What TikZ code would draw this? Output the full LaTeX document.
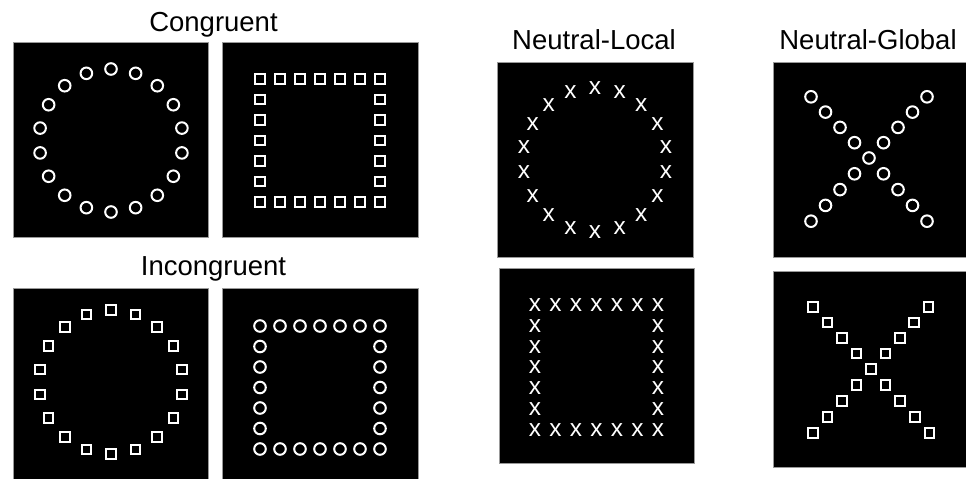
\documentclass[tikz,border=0pt]{standalone}
\usepackage{fontspec}
\setmainfont{Liberation Sans}
\begin{document}
\begin{tikzpicture}[x=1bp,y=-1bp,
  panel/.style={fill=black, draw=black!40, line width=0.8bp},
  title/.style={anchor=base, font=\fontsize{27.6}{30}\selectfont, inner sep=0},
  ringmark/.style={circle, draw=white, line width=2bp, minimum size=11.6bp, inner sep=0},
  boxmark/.style={rectangle, draw=white, line width=2bp, minimum size=9.6bp, inner sep=0},
  crossmark/.style={text=white, font=\fontsize{24.5}{24.5}\selectfont, inner sep=0}]
\useasboundingbox (0,0) rectangle (966,479);

% titles
\node[title] (tcong) at (213.5,32) {Congruent};
\node[title] (tincong) at (213.5,276) {Incongruent};
\node[title] (tnl) at (594,50) {Neutral-Local};
\node[title] (tng) at (868,50) {Neutral-Global};

% panels
\path[panel] (13,42) rectangle (208,237);
\path[panel] (222,42) rectangle (418,237);
\path[panel] (13,288) rectangle (208,484);
\path[panel] (222,288) rectangle (418,484);
\path[panel] (497,62) rectangle (693,257);
\path[panel] (499,268) rectangle (694,463);
\path[panel] (773,62) rectangle (969,257);
\path[panel] (773,271) rectangle (969,467);

% Congruent: circle of circles
\foreach \k in {0,...,17}
  \node[ringmark] (ca\k) at ({111+72*cos(90+20*\k)},{140.5-71.5*sin(90+20*\k)}) {};
% Congruent: square of squares
\foreach \i in {0,...,6} {
  \node[boxmark] (cbt\i) at ({260+20*\i},79) {};
  \node[boxmark] (cbb\i) at ({260+20*\i},202) {};
}
\foreach \j in {1,...,5} {
  \node[boxmark] (cbl\j) at (260,{79+20.5*\j}) {};
  \node[boxmark] (cbr\j) at (380,{79+20.5*\j}) {};
}

% Incongruent: circle of squares
\foreach \k in {0,...,17}
  \node[boxmark] (ia\k) at ({111+72*cos(90+20*\k)},{382-72*sin(90+20*\k)}) {};
% Incongruent: square of circles
\foreach \i in {0,...,6} {
  \node[ringmark] (ibt\i) at ({260+20*\i},326) {};
  \node[ringmark] (ibb\i) at ({260+20*\i},449) {};
}
\foreach \j in {1,...,5} {
  \node[ringmark] (ibl\j) at (260,{326+20.5*\j}) {};
  \node[ringmark] (ibr\j) at (380,{326+20.5*\j}) {};
}

% Neutral-Local: circle of x
\foreach \k in {0,...,17}
  \node[crossmark] (la\k) at ({595+72*cos(90+20*\k)},{160-72*sin(90+20*\k)}) {x};
% Neutral-Local: square of x
\foreach \i in {0,...,6} {
  \node[crossmark] (lbt\i) at ({535+20.5*\i},305) {x};
  \node[crossmark] (lbb\i) at ({535+20.5*\i},430) {x};
}
\foreach \j in {1,...,5} {
  \node[crossmark] (lbl\j) at (535,{305+20.8*\j}) {x};
  \node[crossmark] (lbr\j) at (658,{305+20.8*\j}) {x};
}

% Neutral-Global: X of circles
\node[ringmark] (ga0) at (869,158) {};
\foreach \k in {1,...,4} {
  \node[ringmark] (gatl\k) at ({869-14.5*\k},{158-15.3*\k}) {};
  \node[ringmark] (gatr\k) at ({869+14.5*\k},{158-15.3*\k}) {};
  \node[ringmark] (gabl\k) at ({869-14.5*\k},{158+15.8*\k}) {};
  \node[ringmark] (gabr\k) at ({869+14.5*\k},{158+15.8*\k}) {};
}
% Neutral-Global: X of squares
\node[boxmark] (gb0) at (871,369) {};
\foreach \k in {1,...,4} {
  \node[boxmark] (gbtl\k) at ({871-14.5*\k},{369-15.5*\k}) {};
  \node[boxmark] (gbtr\k) at ({871+14.4*\k},{369-15.5*\k}) {};
  \node[boxmark] (gbbl\k) at ({871-14.5*\k},{369+16*\k}) {};
  \node[boxmark] (gbbr\k) at ({871+14.6*\k},{369+16*\k}) {};
}
\end{tikzpicture}
\end{document}
